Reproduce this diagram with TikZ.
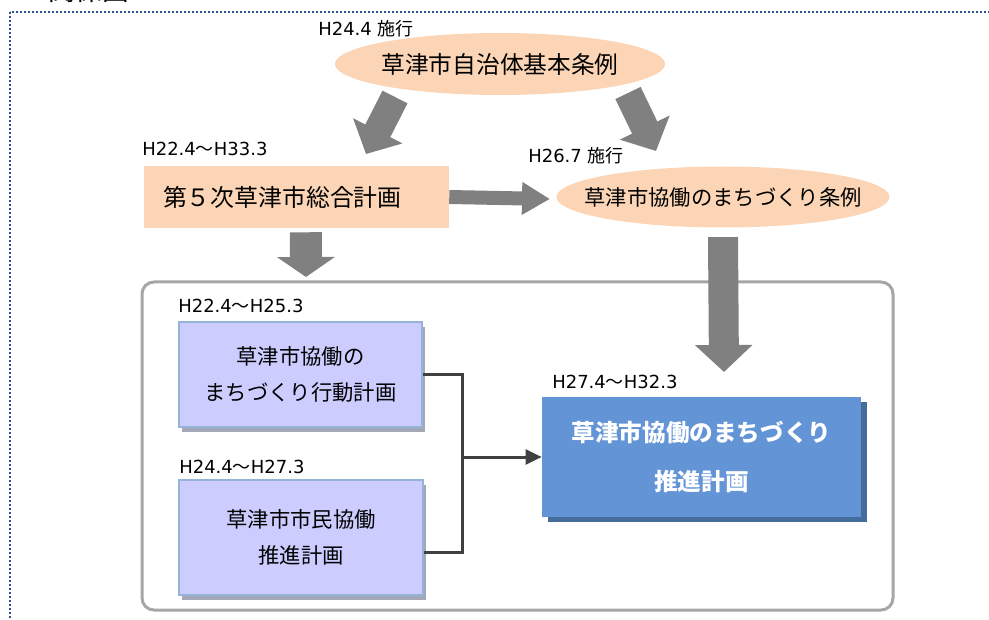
\documentclass[tikz,border=0pt]{standalone}
\usepackage{fontspec}
\setmainfont{DejaVu Sans}
\newfontfamily\jp{Noto Sans CJK JP}
\usetikzlibrary{shapes.geometric,arrows.meta,shadows}

\definecolor{peach}{HTML}{FBD5B5}
\definecolor{arrowgray}{HTML}{808080}
\definecolor{lavender}{HTML}{CCCCFF}
\definecolor{subedge}{HTML}{95B3D7}
\definecolor{subshadow}{HTML}{A3A8B8}
\definecolor{mainblue}{HTML}{6395D6}
\definecolor{mainshadow}{HTML}{466C9C}
\definecolor{boxgray}{HTML}{A6A6A6}
\definecolor{linkgray}{HTML}{404040}
\definecolor{framecolor}{HTML}{2F528F}

\tikzset{
  dotframe/.style={draw=framecolor, line width=1.8pt, dash pattern=on 1.6pt off 1.4pt},
  ordinance/.style={ellipse, fill=peach, inner xsep=-40pt, inner ysep=-12pt},
  sogoplan/.style={rectangle, fill=peach, minimum height=46.5pt, text width=200.25pt,
    inner xsep=14.25pt, align=left, font=\jp\fontsize{17.9}{20}\selectfont},
  planbox/.style={draw=boxgray, line width=2.25pt, rounded corners=9pt},
  subplan/.style={rectangle, draw=subedge, line width=1.5pt, fill=lavender,
    general shadow={fill=subshadow, shadow xshift=2.25pt, shadow yshift=-3.75pt},
    align=center, font=\jp\fontsize{16}{27.5}\selectfont},
  mainplan/.style={rectangle, fill=mainblue, text=white,
    general shadow={fill=mainshadow, shadow xshift=4.5pt, shadow yshift=-3.75pt},
    minimum width=239.25pt, minimum height=90pt, align=center,
    font=\jp\bfseries\fontsize{17.7}{36.75}\selectfont},
  period/.style={anchor=base west, inner sep=0pt, font=\fontsize{13.5}{16}\selectfont},
  bigarrow/.style n args={3}{draw=arrowgray, line width=#1, -{Triangle[length=#2, width=#3]}},
  link/.style={draw=linkgray, line width=2.25pt},
}

\begin{document}
\begin{tikzpicture}[x=0.75pt,y=-0.75pt]
\useasboundingbox (0,0) rectangle (989,620);

% outer frame
\draw[dotframe] (10,12) rectangle (1010,640);
\node (title) at (22,1) [anchor=base west, inner sep=0pt, font=\jp\fontsize{20}{22}\selectfont] {・関係図};

% ordinances
\node (kihon) at (500,64) [ordinance, minimum width=247.5pt, minimum height=46.5pt,
  font=\jp\fontsize{17.8}{20}\selectfont] {草津市自治体基本条例};
\node (kihondate) at (318,36) [period] {H24.4 {\jp 施行}};
\node (kyodo) at (723,197) [ordinance, minimum width=249.75pt, minimum height=45.75pt,
  font=\jp\fontsize{16}{20}\selectfont] {草津市協働のまちづくり条例};
\node (kyododate) at (528,163) [period] {H26.7 {\jp 施行}};

% general plan
\node (sogo) at (296.5,197) [sogoplan] {第５次草津市総合計画};
\node (sogodate) at (142,156) [period] {H22.4{\jp ～}H33.3};

% plans
\draw[planbox] (142,282) rectangle (893,610);
\node (kodo) at (300.5,374.5) [subplan, minimum width=182.25pt, minimum height=78.75pt] {草津市協働の\\まちづくり行動計画};
\node (kododate) at (178,313) [period] {H22.4{\jp ～}H25.3};
\node (shimin) at (301,537.5) [subplan, minimum width=183pt, minimum height=86.25pt] {草津市市民協働\\推進計画};
\node (shimindate) at (179,473) [period] {H24.4{\jp ～}H27.3};
\node (suishin) at (701.5,457) [mainplan] {草津市協働のまちづくり\\推進計画};
\node (suishindate) at (552,388) [period] {H27.4{\jp ～}H32.3};

% block arrows
\coordinate (kihon-l) at (395,97);
\coordinate (sogo-in) at (366,154);
\coordinate (kihon-r) at (628,93);
\coordinate (kyodo-in) at (656,151);
\coordinate (kyodo-l) at (550,199);
\coordinate (plans-in) at (306,277);
\coordinate (suishin-in) at (724,372);
\draw[bigarrow={21pt}{19.5pt}{40.5pt}] (kihon-l) -- (sogo-in);
\draw[bigarrow={21pt}{19.5pt}{40.5pt}] (kihon-r) -- (kyodo-in);
\draw[bigarrow={10.5pt}{21pt}{23.25pt}] (sogo.east) -- (kyodo-l);
\draw[bigarrow={24pt}{15pt}{42.75pt}] ([xshift=7pt,yshift=-3pt]sogo.south) -- (plans-in);
\draw[bigarrow={22.5pt}{20.25pt}{42pt}] ([yshift=-7pt]kyodo.south) -- (suishin-in);

% links
\coordinate (join) at (462,457);
\draw[link] (kodo.east) -| (join);
\draw[link] ([yshift=-10.9pt]shimin.east) -| (join);
\draw[link, -{Triangle[length=12pt, width=11pt]}] (join) -- (suishin.west);
\end{tikzpicture}
\end{document}
